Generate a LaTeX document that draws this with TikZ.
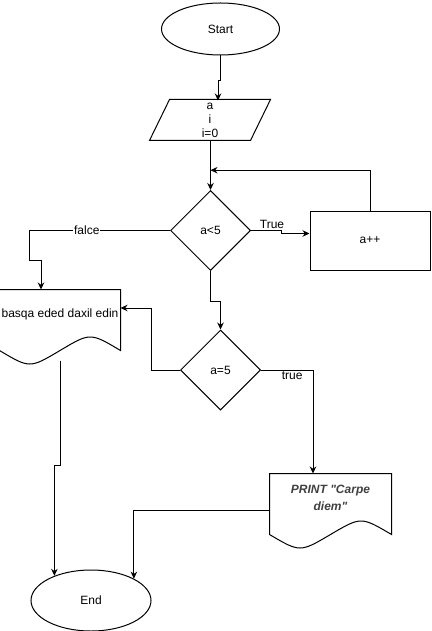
\documentclass[tikz,border=0pt]{standalone}
\usepackage{fontspec}
\setmainfont{Liberation Sans}
\usetikzlibrary{positioning, arrows.meta, calc, shapes.geometric}

% outline of a document shape round a named node
\newcommand\docoutline[1]{%
  \draw (#1.north west) -- (#1.north east) -- ($(#1.south east)+(0,12)$)
    .. controls ($(#1.south east)!0.25!(#1.south west)+(0,-6)$) .. ($(#1.south)+(0,12)$)
    .. controls ($(#1.south east)!0.75!(#1.south west)+(0,30)$) .. ($(#1.south west)+(0,12)$)
    -- cycle;}
% outline of a slanted input shape round a named node
\newcommand\iooutline[1]{%
  \draw ($(#1.north west)+(10,0)$) -- ($(#1.north east)+(10,0)$)
    -- ($(#1.south east)+(-10,0)$) -- ($(#1.south west)+(-10,0)$) -- cycle;}

\begin{document}
\begin{tikzpicture}[
  x=1pt, y=-1pt,
  every node/.style={font=\fontsize{12}{14}\selectfont},
  term/.style={ellipse, draw, minimum width=118, minimum height=52, inner sep=0},
  io/.style={rectangle, minimum width=100, minimum height=40, inner sep=0, align=center},
  decide/.style={diamond, draw, minimum width=80, minimum height=80, inner sep=0},
  proc/.style={rectangle, draw, minimum width=120, minimum height=59},
  docu/.style={rectangle, minimum height=48, inner sep=0, align=center},
  lbl/.style={inner sep=1pt},
  arr/.style={-{Stealth[length=7pt, width=6.5pt]}, line width=1pt},
  line width=1pt,
  ]

  \useasboundingbox[fill=white] (0,0) rectangle (431,631);

  \node[term] (start) at (220.5,29) {Start};
  \node[io] (input) at (210,120) {a\\i\\i=0};
  \node[decide] (dec1) at (210.5,230.5) {a<5};
  \node[proc] (act) at (370,240.5) {a++};
  \node[docu, minimum width=120] (doc1) at (60,314) {basqa eded daxil edin};
  \node[decide] (dec2) at (220.5,370) {a=5};
  \node[docu, minimum width=121, text=black!75,
    font=\fontsize{12}{17}\selectfont\bfseries\itshape] (doc2) at (330.5,498)
    {PRINT \textquotedbl Carpe\\diem\textquotedbl};
  \node[term, minimum width=120, minimum height=61] (stop) at (91,600.5) {End};

  \iooutline{input}
  \docoutline{doc1}
  \docoutline{doc2}

  \draw[arr] (start.south) -- ++(0,25) -- ++(-2.5,0) -- ++(0,20);
  \draw[arr] (input.south -| dec1.north) -- (dec1.north);
  \draw[arr] (act.north) |- ($(input.south -| dec1.north)!0.6!(dec1.north)$);
  \draw[arr] (dec1.east) -- node[lbl, above, pos=0.7] {True} ++(30,0) |- ([yshift=7pt]act.west);
  \draw[arr] (dec1.west) -- node[lbl, fill=white, pos=0.59] {falce} ++(-141,0) -- ++(0,30) -| ([xshift=-19pt]doc1.north);
  \draw[arr] (dec1.south) -- ++(0,30) -| (dec2.north);
  \draw[arr] (dec2.west) -- ++(-29,0) |- ([yshift=6pt]doc1.east);
  \draw[arr] (dec2.east) -| node[lbl, below, pos=0.3] {true} ([xshift=-17.5pt]doc2.north);
  \draw[arr] ([yshift=-12pt]doc2.west) -| (stop.27);
  \draw[arr] ([yshift=-22pt]doc1.south) -- ++(0,105) -| (stop.146);

\end{tikzpicture}
\end{document}
